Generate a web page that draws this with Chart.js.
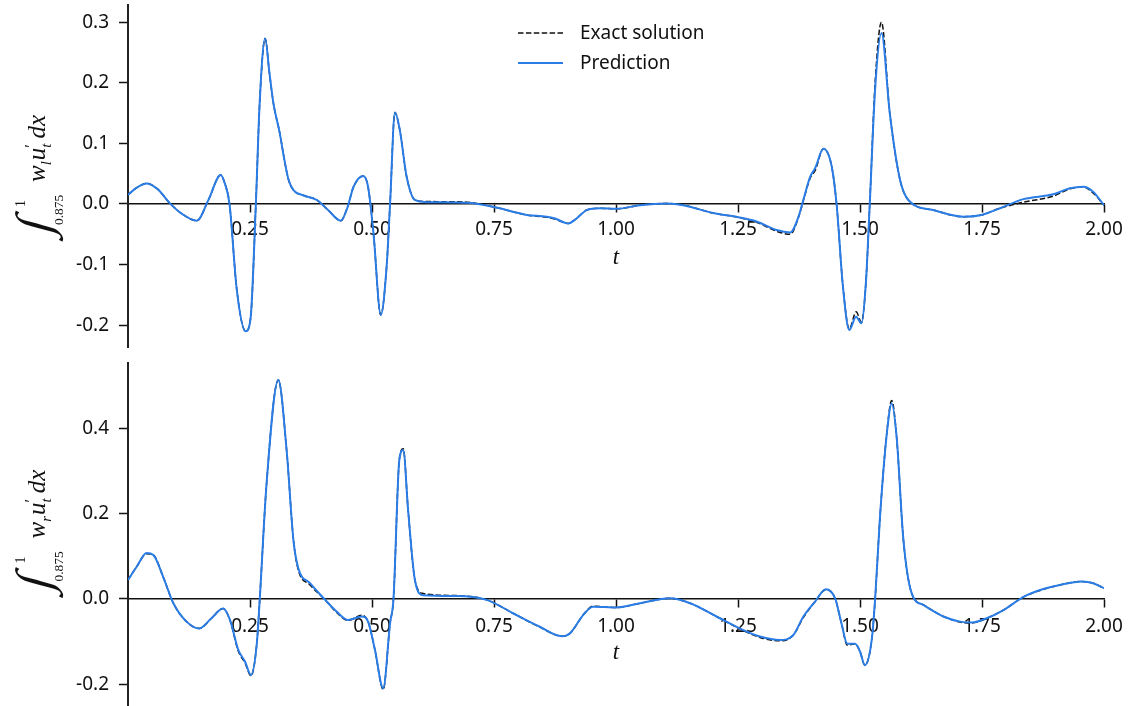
<!DOCTYPE html>
<html>
<head>
<meta charset="utf-8">
<script src="https://cdn.jsdelivr.net/npm/chart.js@4.4.1/dist/chart.umd.min.js"></script>
<style>
  html, body { margin: 0; padding: 0; background: #fff; }
  #wrap { position: relative; width: 1130px; height: 706px; overflow: hidden; }
  canvas { position: absolute; left: 0; }
  #topChart { top: 0; }
  #bottomChart { top: 353px; }
</style>
</head>
<body>
<div id="wrap">
  <canvas id="topChart" width="1130" height="353"></canvas>
  <canvas id="bottomChart" width="1130" height="353"></canvas>
</div>
<script>
// Datos - panel superior (w_l)
const tTop = [0.000, 0.018, 0.038, 0.060, 0.086, 0.110, 0.141, 0.165, 0.190, 0.198, 0.208, 0.223, 0.241, 0.251, 0.262, 0.270, 0.281, 0.290, 0.298, 0.311, 0.320, 0.329, 0.339, 0.360, 0.387, 0.410, 0.436, 0.450, 0.462, 0.482, 0.492, 0.503, 0.518, 0.530, 0.537, 0.547, 0.557, 0.571, 0.588, 0.612, 0.694, 0.752, 0.817, 0.858, 0.875, 0.902, 0.919, 0.940, 0.967, 1.001, 1.049, 1.104, 1.138, 1.199, 1.251, 1.288, 1.329, 1.357, 1.374, 1.384, 1.398, 1.408, 1.425, 1.442, 1.452, 1.465, 1.478, 1.492, 1.503, 1.512, 1.520, 1.531, 1.544, 1.561, 1.582, 1.599, 1.650, 1.712, 1.749, 1.787, 1.835, 1.896, 1.930, 1.958, 1.978, 2.000];
const predTop = [0.015, 0.027, 0.034, 0.025, 0.001, -0.016, -0.0275, 0.007, 0.048, 0.035, 0.000, -0.142, -0.210, -0.190, 0.000, 0.170, 0.273, 0.215, 0.166, 0.117, 0.075, 0.040, 0.023, 0.014, 0.0066, -0.010, -0.0275, -0.005, 0.028, 0.046, 0.028, -0.048, -0.183, -0.103, 0.000, 0.151, 0.122, 0.045, 0.0066, 0.003, 0.002, -0.0055, -0.018, -0.021, -0.024, -0.032, -0.024, -0.010, -0.007, -0.008, -0.002, 0.001, -0.002, -0.015, -0.022, -0.029, -0.043, -0.047, -0.021, 0.007, 0.045, 0.059, 0.091, 0.062, 0.000, -0.136, -0.208, -0.186, -0.197, -0.131, 0.000, 0.190, 0.282, 0.150, 0.040, 0.0066, -0.010, -0.021, -0.018, -0.007, 0.008, 0.016, 0.026, 0.0286, 0.020, -0.002];
const exactTop = [0.015, 0.027, 0.034, 0.025, 0.001, -0.016, -0.0275, 0.007, 0.048, 0.035, 0.000, -0.142, -0.210, -0.190, 0.000, 0.170, 0.273, 0.215, 0.166, 0.117, 0.075, 0.040, 0.023, 0.014, 0.0066, -0.010, -0.0275, -0.005, 0.028, 0.046, 0.028, -0.048, -0.183, -0.103, 0.000, 0.151, 0.122, 0.045, 0.0066, 0.004, 0.003, -0.0055, -0.018, -0.022, -0.025, -0.032, -0.024, -0.010, -0.007, -0.008, -0.002, 0.001, -0.002, -0.015, -0.022, -0.030, -0.045, -0.050, -0.022, 0.006, 0.043, 0.055, 0.091, 0.062, 0.000, -0.136, -0.206, -0.178, -0.195, -0.131, 0.000, 0.200, 0.300, 0.150, 0.040, 0.0066, -0.010, -0.021, -0.018, -0.007, 0.003, 0.013, 0.025, 0.028, 0.018, -0.002];

// Datos - panel inferior (w_r)
const tBottom = [0.000, 0.018, 0.038, 0.052, 0.072, 0.093, 0.120, 0.146, 0.171, 0.195, 0.209, 0.226, 0.240, 0.252, 0.264, 0.270, 0.284, 0.308, 0.325, 0.339, 0.349, 0.373, 0.404, 0.428, 0.451, 0.479, 0.492, 0.506, 0.523, 0.537, 0.544, 0.556, 0.564, 0.574, 0.588, 0.605, 0.673, 0.735, 0.790, 0.844, 0.889, 0.906, 0.933, 0.953, 1.001, 1.049, 1.111, 1.152, 1.206, 1.261, 1.295, 1.336, 1.363, 1.384, 1.408, 1.430, 1.449, 1.462, 1.474, 1.490, 1.500, 1.510, 1.524, 1.531, 1.541, 1.555, 1.565, 1.575, 1.589, 1.606, 1.630, 1.671, 1.705, 1.729, 1.760, 1.794, 1.835, 1.869, 1.910, 1.954, 1.978, 2.000];
const predBottom = [0.0445, 0.076, 0.108, 0.103, 0.052, -0.010, -0.053, -0.069, -0.045, -0.022, -0.049, -0.119, -0.147, -0.178, -0.104, 0.000, 0.271, 0.513, 0.349, 0.138, 0.072, 0.037, -0.002, -0.030, -0.049, -0.041, -0.053, -0.119, -0.209, -0.057, 0.000, 0.326, 0.349, 0.208, 0.044, 0.009, 0.007, -0.002, -0.034, -0.065, -0.087, -0.080, -0.037, -0.018, -0.020, -0.010, 0.0016, -0.010, -0.041, -0.073, -0.088, -0.096, -0.085, -0.041, -0.006, 0.023, 0.0015, -0.057, -0.105, -0.105, -0.123, -0.155, -0.096, 0.000, 0.193, 0.388, 0.458, 0.380, 0.138, 0.013, -0.014, -0.041, -0.053, -0.055, -0.045, -0.026, 0.005, 0.021, 0.033, 0.041, 0.037, 0.025];
const exactBottom = [0.0445, 0.076, 0.106, 0.103, 0.052, -0.010, -0.053, -0.069, -0.045, -0.022, -0.050, -0.122, -0.150, -0.180, -0.104, 0.000, 0.271, 0.513, 0.349, 0.138, 0.068, 0.033, -0.002, -0.032, -0.050, -0.038, -0.053, -0.119, -0.212, -0.057, 0.000, 0.326, 0.352, 0.208, 0.044, 0.013, 0.008, -0.002, -0.034, -0.066, -0.087, -0.080, -0.037, -0.017, -0.020, -0.010, 0.0016, -0.010, -0.041, -0.074, -0.090, -0.098, -0.085, -0.043, -0.006, 0.022, 0.0015, -0.057, -0.108, -0.105, -0.123, -0.155, -0.096, 0.000, 0.193, 0.390, 0.465, 0.380, 0.138, 0.013, -0.014, -0.041, -0.054, -0.056, -0.045, -0.026, 0.005, 0.020, 0.033, 0.041, 0.037, 0.025];

const xTicks = [0.25, 0.50, 0.75, 1.00, 1.25, 1.50, 1.75, 2.00];
const seriesNames = ['Exact solution', 'Prediction'];

const BLUE = '#2a7de6';
const INK = '#111111';
const SANS = '"Noto Sans", "Open Sans", sans-serif';
const SERIF = '"Liberation Serif", "DejaVu Serif", serif';

// glifo escalado a la altura pedida e inclinado hasta el ancho pedido (marco rotado)
function fitGlyph(ctx, ch, font, x0, x1, y0, y1) {
    ctx.font = font;
    const m = ctx.measureText(ch);
    const w = m.actualBoundingBoxLeft + m.actualBoundingBoxRight;
    const h = m.actualBoundingBoxAscent + m.actualBoundingBoxDescent;
    const H = y1 - y0;
    const s = H / h;
    const k = Math.max(0, ((x1 - x0) - w * s) / H);
    ctx.save();
    ctx.translate(x0, y0);
    ctx.transform(1, 0, -k, 1, k * H, 0);
    ctx.scale(s, s);
    ctx.fillText(ch, m.actualBoundingBoxLeft, m.actualBoundingBoxAscent);
    ctx.restore();
}

// etiqueta del eje y en rotación: ∫_{0.875}^1 w_? u'_t dx
const axisLabels = {
    id: 'axisLabels',
    afterDraw(chart, args, opts) {
        const ctx = chart.ctx;
        const area = chart.chartArea;
        const y0 = chart.scales.y.getPixelForValue(0);

        // titulo del eje x
        ctx.save();
        ctx.fillStyle = INK;
        ctx.font = 'italic 23px ' + SERIF;
        ctx.textAlign = 'center';
        ctx.textBaseline = 'alphabetic';
        ctx.fillText('t', (area.left + area.right) / 2, y0 + 60);
        ctx.restore();

        // titulo del eje y
        ctx.save();
        ctx.translate(45, (area.top + area.bottom) / 2 + (opts.shift || 0));
        ctx.rotate(-Math.PI / 2);
        ctx.fillStyle = INK;
        ctx.textAlign = 'left';
        ctx.textBaseline = 'alphabetic';
        fitGlyph(ctx, '\u222B', '40px ' + SERIF, -67, -33, -31, 18);
        ctx.font = '14px ' + SERIF;
        ctx.fillText('1', -31, -20);
        ctx.font = '13.5px ' + SERIF;
        ctx.fillText('0.875', -49, 18);
        let x = -6;
        ctx.font = 'italic 25px ' + SERIF;
        ctx.fillText('w', x, 0);
        x += ctx.measureText('w').width;
        ctx.font = 'italic 15px ' + SERIF;
        ctx.fillText(opts.sub, x, 6);
        x += ctx.measureText(opts.sub).width + 1;
        ctx.font = 'italic 25px ' + SERIF;
        ctx.fillText('u', x, 0);
        x += ctx.measureText('u').width;
        ctx.font = '17px ' + SERIF;
        ctx.fillText('\u2032', x, -9);
        ctx.font = 'italic 15px ' + SERIF;
        ctx.fillText('t', x, 6);
        x += ctx.measureText('t').width + 5;
        ctx.font = 'italic 25px ' + SERIF;
        ctx.fillText('dx', x, 0);
        ctx.restore();

        // leyenda
        if (opts.legend) {
            ctx.save();
            ctx.font = '19px ' + SANS;
            ctx.textBaseline = 'middle';
            ctx.fillStyle = INK;
            const rows = [
                { name: seriesNames[0], color: INK, dash: [5.5, 2.4], width: 1.5, y: 34 },
                { name: seriesNames[1], color: BLUE, dash: [], width: 2, y: 64 }
            ];
            rows.forEach(r => {
                ctx.beginPath();
                ctx.setLineDash(r.dash);
                ctx.strokeStyle = r.color;
                ctx.lineWidth = r.width;
                ctx.moveTo(518, r.y - 1);
                ctx.lineTo(563, r.y - 1);
                ctx.stroke();
                ctx.fillText(r.name, 580, r.y);
            });
            ctx.restore();
        }
    }
};

function pts(t, v) {
    return t.map((x, i) => ({ x: x, y: v[i] }));
}

function buildChart(id, t, exact, pred, yMin, yMax, yStep, padding, labelOpts) {
    const ctx = document.getElementById(id).getContext('2d');
    return new Chart(ctx, {
        type: 'line',
        data: {
            datasets: [
                {
                    label: seriesNames[0], data: pts(t, exact), borderColor: INK, borderWidth: 1.5,
                    borderDash: [5.5, 2.4], pointRadius: 0, fill: false, cubicInterpolationMode: 'monotone', order: 2
                },
                {
                    label: seriesNames[1], data: pts(t, pred), borderColor: BLUE, borderWidth: 2,
                    pointRadius: 0, fill: false, cubicInterpolationMode: 'monotone', order: 1
                }
            ]
        },
        options: {
            responsive: false, animation: false, devicePixelRatio: 1,
            layout: { padding: padding },
            plugins: { legend: { display: false }, tooltip: { enabled: false }, axisLabels: labelOpts },
            scales: {
                x: {
                    type: 'linear', min: 0, max: 2, position: { y: 0 },
                    afterFit(scale) {
                        scale.height = 0;
                        scale.paddingLeft = 0; scale.paddingRight = 0;
                        scale.paddingTop = 0; scale.paddingBottom = 0;
                    },
                    afterBuildTicks(scale) { scale.ticks = xTicks.map(v => ({ value: v })); },
                    grid: { drawOnChartArea: false, drawTicks: true, tickLength: 8, tickColor: INK, tickWidth: 1.5 },
                    border: { display: true, color: INK, width: 1.5 },
                    ticks: {
                        autoSkip: false, maxRotation: 0, padding: labelOpts.xPad, color: INK,
                        font: { family: SANS, size: 19 },
                        callback: v => v.toFixed(2)
                    }
                },
                y: {
                    type: 'linear', min: yMin, max: yMax,
                    afterFit(scale) {
                        scale.width = 128;
                        scale.paddingTop = 0; scale.paddingBottom = 0;
                    },
                    grid: { drawOnChartArea: false, drawTicks: true, tickLength: 9, tickColor: INK, tickWidth: 1.5 },
                    border: { display: true, color: '#222', width: 2 },
                    ticks: {
                        stepSize: yStep, includeBounds: false, padding: 10, color: INK,
                        font: { family: SANS, size: 19 },
                        callback: v => v.toFixed(1)
                    }
                }
            }
        },
        plugins: [axisLabels]
    });
}

buildChart('topChart', tTop, exactTop, predTop, -0.236, 0.3284, 0.1,
    { left: 0, right: 26, top: 5, bottom: 6 }, { sub: 'l', legend: true, shift: 0, xPad: 6 });
buildChart('bottomChart', tBottom, exactBottom, predBottom, -0.2506, 0.5527, 0.2,
    { left: 0, right: 26, top: 10, bottom: 0 }, { sub: 'r', legend: false, shift: -2, xPad: 8 });
</script>
</body>
</html>
